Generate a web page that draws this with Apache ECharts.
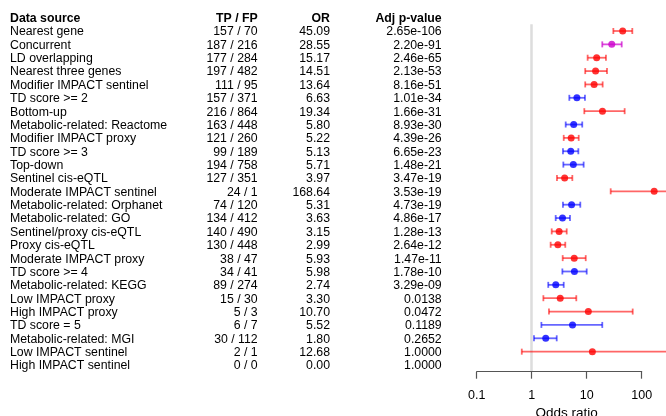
<!DOCTYPE html>
<html>
<head>
<meta charset="utf-8">
<script src="https://cdn.jsdelivr.net/npm/echarts@6.0.0/dist/echarts.min.js"></script>
<style>
html,body{margin:0;padding:0;background:#fff;}
#container{width:666px;height:416px;}
</style>
</head>
<body>
<div id="container"></div>
<script>
var sources = ['Nearest gene','Concurrent','LD overlapping','Nearest three genes','Modifier IMPACT sentinel','TD score >= 2','Bottom-up',
	'Metabolic-related: Reactome','Modifier IMPACT proxy','TD score >= 3','Top-down','Sentinel cis-eQTL','Moderate IMPACT sentinel',
	'Metabolic-related: Orphanet','Metabolic-related: GO','Sentinel/proxy cis-eQTL','Proxy cis-eQTL','Moderate IMPACT proxy',
	'TD score >= 4','Metabolic-related: KEGG','Low IMPACT proxy','High IMPACT proxy','TD score = 5','Metabolic-related: MGI',
	'Low IMPACT sentinel','High IMPACT sentinel'];
var tp = [157,187,177,197,111,157,216,163,121,99,194,127,24,74,134,140,130,38,34,89,15,5,6,30,2,0];
var fp = [70,216,284,482,95,371,864,448,260,189,758,351,1,120,412,490,448,47,41,274,30,3,7,112,1,0];
var oddsRatio = [45.09,28.55,15.17,14.51,13.64,6.63,19.34,5.80,5.22,5.13,5.71,3.97,168.64,5.31,3.63,3.15,2.99,5.93,5.98,2.74,3.30,10.70,5.52,1.80,12.68,0.00];
var adjP = ['2.65e-106','2.20e-91','2.46e-65','2.13e-53','8.16e-51','1.01e-34','1.66e-31','8.93e-30','4.39e-26','6.65e-23','1.48e-21',
	'3.47e-19','3.53e-19','4.73e-19','4.86e-17','1.28e-13','2.64e-12','1.47e-11','1.78e-10','3.29e-09','0.0138','0.0472','0.1189',
	'0.2652','1.0000','1.0000'];
var ciLow = [30.5,19.2,10.4,9.4,9.4,4.83,9.05,4.15,3.82,3.7,3.76,2.88,27.3,3.7,2.73,2.31,2.21,3.66,3.61,2.0,1.63,2.06,1.5,1.1,0.66,null];
var ciHigh = [67.5,43.3,22.4,23.4,19.5,9.3,49,8.3,7.16,7.05,8.8,5.48,1200,7.65,4.97,4.33,4.08,9.6,10,3.82,6.47,68.6,19.2,2.85,2000,null];
// r = red, m = magenta, b = blue
var kind = ['r','m','r','r','r','b','r','b','r','b','b','r','r','b','b','r','r','r','b','b','r','r','b','b','r',''];
var headers = ['Data source','TP / FP','OR','Adj p-value'];
var tickVals = [0.1,1,10,100];

var FONT = "'Liberation Sans', Arial, sans-serif";
var pointColor = {r:'#ff0000', m:'#cc00cc', b:'#0000ff'};
var barColor = {r:'rgba(255,0,0,0.6)', m:'rgba(204,0,204,0.7)', b:'rgba(0,0,255,0.6)'};

var myChart = echarts.init(document.getElementById('container'), null, {renderer:'canvas'});

var tableRows = [], bars = [], points = [];
for(var i=0;i<=sources.length;i++){
	tableRows.push([1,i]);
}
for(var i=0,k=sources.length;i<k;i++){
	if(oddsRatio[i]>0){
		bars.push([ciLow[i],ciHigh[i],i+1,kind[i]]);
		points.push({value:[oddsRatio[i],i+1],itemStyle:{color:pointColor[kind[i]]}});
	}
}

function renderTable(params,api){
	var row = api.value(1);
	var y = api.coord([1,row])[1] + 1;
	var bold = row==0;
	var cells;
	if(bold){
		cells = headers;
	}else{
		cells = [sources[row-1], tp[row-1]+' / '+fp[row-1], oddsRatio[row-1].toFixed(2), adjP[row-1]];
	}
	var xs = [10,257.7,330,441.7];
	var aligns = ['left','right','right','right'];
	var children = [];
	for(var c=0;c<4;c++){
		children.push({
			type:'text',
			style:{x:xs[c],y:y,text:cells[c],align:aligns[c],verticalAlign:'middle',
				fill:'#000',font:(bold?'bold ':'')+'12.3px '+FONT}
		});
	}
	return {type:'group',children:children};
}

function renderBar(params,api){
	var lo = api.coord([api.value(0),api.value(2)]);
	var hi = api.coord([api.value(1),api.value(2)]);
	var col = barColor[bars[params.dataIndex][3]];
	var style = {stroke:col,lineWidth:1.8};
	return {type:'group',children:[
		{type:'line',shape:{x1:lo[0],y1:lo[1],x2:hi[0],y2:hi[1]},style:style},
		{type:'line',shape:{x1:lo[0],y1:lo[1]-3,x2:lo[0],y2:lo[1]+3},style:style},
		{type:'line',shape:{x1:hi[0],y1:hi[1]-3,x2:hi[0],y2:hi[1]+3},style:style}
	]};
}

var option = {
	animation:false,
	grid:[
		{left:476.7,right:0,top:10.96,height:360.74,outerBoundsMode:'none'},
		{left:476.7,width:165,top:10.96,height:360.74,outerBoundsMode:'none'}
	],
	xAxis:[{
		type:'log',gridIndex:0,logBase:10,min:0.1,max:276.6,show:false
	},{
		type:'log',gridIndex:1,logBase:10,min:0.1,max:100,position:'bottom',
		axisLine:{show:true,onZero:false,lineStyle:{color:'#555',width:1.2}},
		axisTick:{show:true,length:7,lineStyle:{color:'#555',width:1.2}},
		splitLine:{show:false},
		axisLabel:{color:'#000',fontSize:12.5,fontFamily:FONT,margin:17,
			formatter:function(v){ return tickVals.indexOf(+v)>=0 ? String(+v) : ''; }},
		name:'Odds ratio',nameLocation:'middle',nameGap:32,
		nameTextStyle:{color:'#000',fontSize:13.5,fontFamily:FONT,padding:[0,0,0,15]}
	}],
	yAxis:[
		{type:'value',gridIndex:0,inverse:true,min:-0.5,max:26.5,show:false},
		{type:'value',gridIndex:1,inverse:true,min:-0.5,max:26.5,show:false}
	],
	series:[{
		type:'custom',
		name:'table',
		xAxisIndex:0,yAxisIndex:0,
		renderItem:renderTable,
		data:tableRows,
		silent:true
	},{
		type:'custom',
		name:'ci',
		xAxisIndex:0,yAxisIndex:0,
		renderItem:renderBar,
		encode:{x:[0,1],y:2},
		data:bars,
		z:3
	},{
		type:'scatter',
		name:'OR',
		xAxisIndex:0,yAxisIndex:0,
		symbol:'circle',
		symbolSize:7,
		data:points,
		z:4,
		markLine:{
			silent:true,
			symbol:['none','none'],
			label:{show:false},
			lineStyle:{color:'#dddddd',width:2.5,type:'solid'},
			data:[[{coord:[1,0.5]},{coord:[1,26.45]}]],
			z:1
		}
	}]
};
myChart.setOption(option);
</script>
</body>
</html>
